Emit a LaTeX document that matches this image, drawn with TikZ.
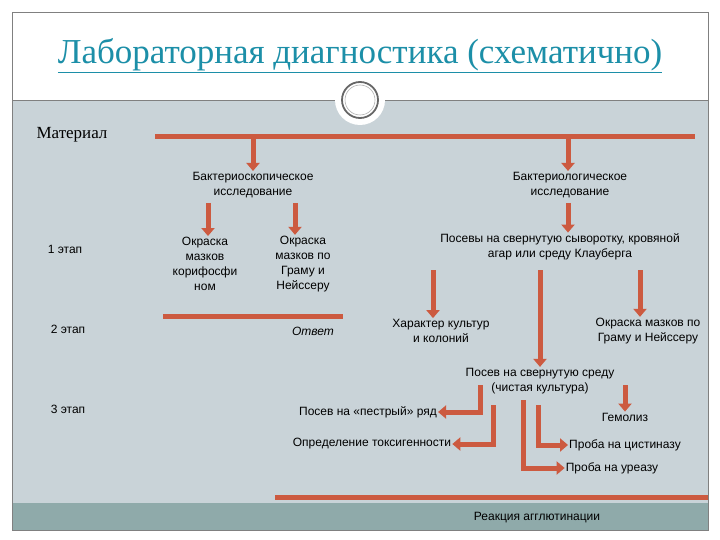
\documentclass[tikz,border=0pt]{standalone}
\usepackage{fontspec}
\setmainfont{Liberation Sans}
\newfontfamily\serifft{Liberation Serif}
\usetikzlibrary{arrows.meta}
\definecolor{bgc}{HTML}{C9D3D8}
\definecolor{stripc}{HTML}{8FAAAA}
\definecolor{arrc}{HTML}{CC5A40}
\definecolor{titc}{HTML}{1C8FA8}
\tikzset{
 barr/.style={draw=arrc,line width=5pt,-{Triangle[width=13pt,length=8pt]}},
 bar/.style={draw=arrc,line width=5pt},
 lbl/.style={align=center,font=\fontsize{12}{15}\selectfont,inner sep=1pt},
}
\begin{document}
\begin{tikzpicture}[x=1pt,y=-1pt]
\useasboundingbox (0,0) rectangle (720,540);
\fill[white] (0,0) rectangle (720,540);
\fill[bgc] (12,100) rectangle (708,503);
\fill[stripc] (12,503) rectangle (708,530);
\draw[gray] (12,12) rectangle (708,530);
\draw[gray] (12,100) -- (708,100);
\node[circle,fill=white,minimum size=50pt] (circ) at (360,100) {};
\draw[gray!80!black,line width=1.8pt] (360,100) circle (18);
\draw[gray!60,line width=0.6pt] (360,100) circle (15);
\node[font=\serifft\fontsize{35}{38}\selectfont,text=titc] (title) at (360,56) {\underline{Лабораторная диагностика (схематично)}};
\node[font=\serifft\fontsize{17}{19}\selectfont] (mat) at (72,135) {Материал};
\node[lbl] (e1) at (65,249) {1 этап};
\node[lbl] (e2) at (68,329) {2 этап};
\node[lbl] (e3) at (68,409) {3 этап};
\coordinate (m1) at (155,137); \coordinate (m2) at (695,137);
\draw[bar] (m1) -- (m2);
\node[lbl] (bs) at (253,185) {Бактериоскопическое\\исследование};
\node[lbl] (bl) at (570,185) {Бактериологическое\\исследование};
\draw[barr] (253,137) -- (253,137 |- bs.north);
\draw[barr] (568,137) -- (568,137 |- bl.north);
\node[lbl] (ok1) at (205,264) {Окраска\\мазков\\корифосфи\\ном};
\node[lbl] (ok2) at (303,264) {Окраска\\мазков по\\Граму и\\Нейссеру};
\draw[barr] (208,203) -- (208,203 |- ok1.north);
\draw[barr] (295,203) -- (295,203 |- ok2.north);
\node[lbl] (pos) at (560,247) {Посевы на свернутую сыворотку, кровяной\\агар или среду Клауберга};
\draw[barr] (568,203) -- (568,203 |- pos.north);
\coordinate (b21) at (163,316); \coordinate (b22) at (343,316);
\draw[bar] (b21) -- (b22);
\node[lbl,font=\itshape\fontsize{12}{15}\selectfont] (otv) at (313,331) {Ответ};
\node[lbl] (har) at (441,331) {Характер культур\\и колоний};
\node[lbl] (okr) at (648,331) {Окраска мазков по\\Граму и Нейссеру};
\node[lbl] (psr) at (540,381) {Посев на свернутую среду\\(чистая культура)};
\draw[barr] (433,270) -- (433,270 |- har.north);
\draw[barr] (640,270) -- (640,270 |- okr.north);
\draw[barr] (540,270) -- (540,270 |- psr.north);
\node[lbl] (pest) at (368,412) {Посев на «пестрый» ряд};
\node[lbl] (tox) at (372,444) {Определение токсигенности};
\node[lbl] (cis) at (625,445) {Проба на цистиназу};
\node[lbl] (ure) at (612,468) {Проба на уреазу};
\node[lbl] (gem) at (625,417) {Гемолиз};
\draw[barr] (480,385) |- (pest.east);
\draw[barr] (493,405) |- (tox.east);
\draw[barr] (538,405) |- (cis.west);
\draw[barr] (523,400) |- (ure.west);
\draw[barr] (625,385) -- (625,385 |- gem.north);
\coordinate (b31) at (275,497); \coordinate (b32) at (708,497);
\draw[bar] (b31) -- (b32);
\node[lbl] (agg) at (537,518) {Реакция агглютинации};
\end{tikzpicture}
\end{document}
